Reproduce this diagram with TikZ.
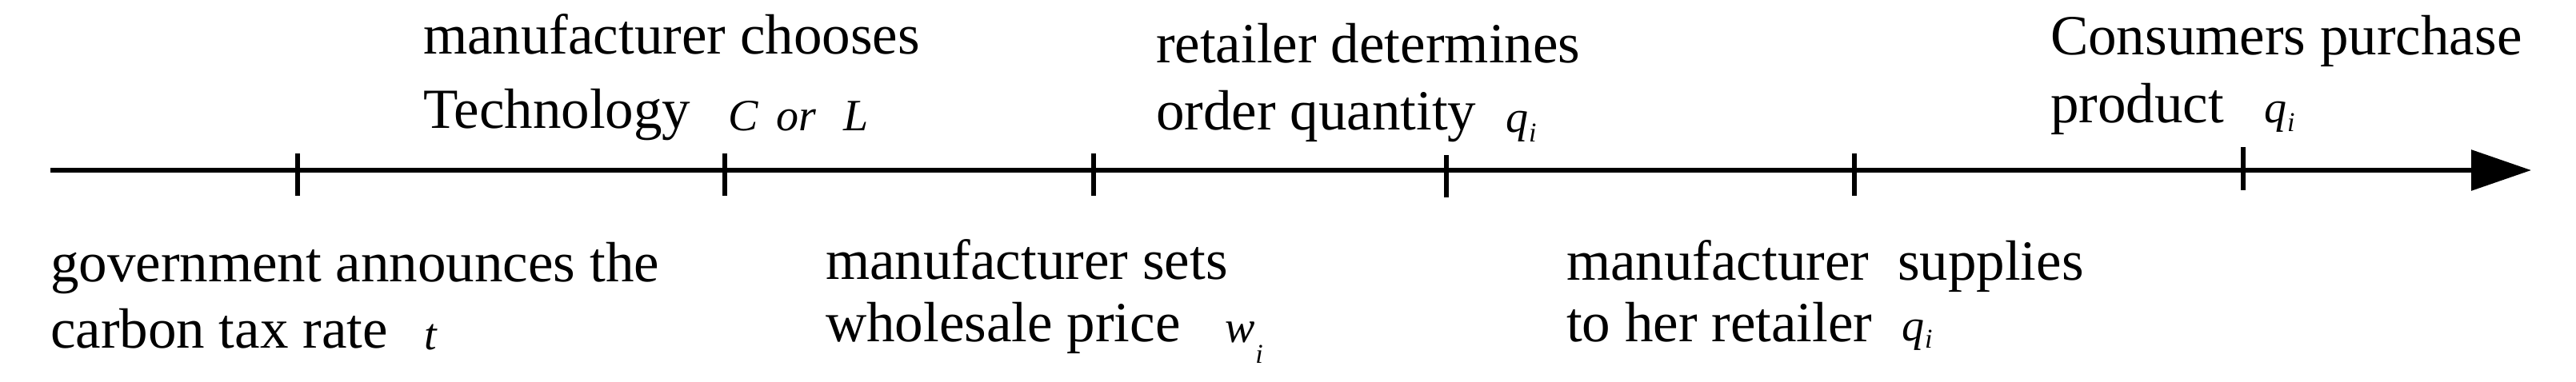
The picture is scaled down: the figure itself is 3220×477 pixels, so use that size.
\documentclass[tikz,border=0pt]{standalone}
\usepackage{fontspec}
\setmainfont{Liberation Serif}
\usetikzlibrary{arrows.meta}
\tikzset{
  lbl/.style={anchor=base west, inner sep=0pt, outer sep=0pt, font=\fontsize{35.5pt}{42pt}\selectfont},
  var/.style={anchor=base west, inner sep=0pt, outer sep=0pt, font=\fontsize{28pt}{32pt}\selectfont\itshape},
  tickmark/.style={line width=2.6pt},
  axisline/.style={line width=3pt, -{Triangle[length=37.5pt,width=25pt]}}
}
\newcommand{\subi}[1]{\kern0.5pt\raisebox{-#1}{\fontsize{17pt}{17pt}\selectfont\itshape i}}
\begin{document}
\begin{tikzpicture}[x=0.5pt,y=-0.5pt]
\useasboundingbox (0,0) rectangle (3220,477);
% axis
\coordinate (start) at (63,213);
\coordinate (end) at (3164,213);
\draw[axisline] (start) -- (end);
% ticks
\coordinate (k1a) at (372,192); \coordinate (k1b) at (372,245);
\coordinate (k2a) at (906,192); \coordinate (k2b) at (906,245);
\coordinate (k3a) at (1367,192); \coordinate (k3b) at (1367,245);
\coordinate (k4a) at (1808,194); \coordinate (k4b) at (1808,247);
\coordinate (k5a) at (2318,192); \coordinate (k5b) at (2318,245);
\coordinate (k6a) at (2804,184); \coordinate (k6b) at (2804,238);
\foreach \k in {1,...,6} {\draw[tickmark] (k\k a) -- (k\k b);}
% top labels
\node[lbl] (a1) at (529,67) {manufacturer chooses};
\node[lbl] (a2) at (529,160) {Technology};
\node[var] (aC) at (910,163) {C};
\node[var] (aor) at (970,163) {or};
\node[var] (aL) at (1054,163) {L};
\node[lbl] (b1) at (1445,78) {retailer determines};
\node[lbl] (b2) at (1445,162) {order quantity};
\node[var] (bq) at (1882,165) {q\subi{6pt}};
\node[lbl] (c1) at (2563,68) {Consumers purchase};
\node[lbl] (c2) at (2563,153) {product};
\node[var] (cq) at (2830,153) {q\subi{5.5pt}};
% bottom labels
\node[lbl] (d1) at (63,352) {government announces the};
\node[lbl] (d2) at (63,435) {carbon tax rate};
\node[var] (dt) at (530,437) {t};
\node[lbl] (e1) at (1032,349) {manufacturer sets};
\node[lbl] (e2) at (1032,427) {wholesale price};
\node[var] (ew) at (1531,428) {w\subi{13pt}};
\node[lbl] (f1) at (1958,350) {manufacturer\ \ supplies};
\node[lbl] (f2) at (1958,427) {to her retailer};
\node[var] (fq) at (2377,426) {q\subi{4.5pt}};
\end{tikzpicture}
\end{document}
